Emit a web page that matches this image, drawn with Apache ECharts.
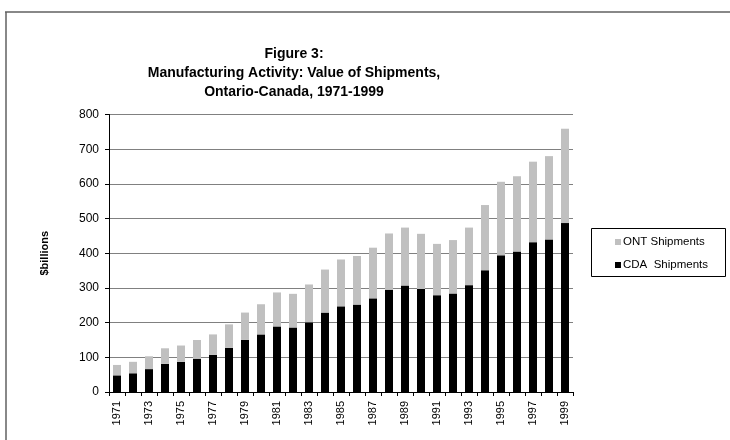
<!DOCTYPE html>
<html><head><meta charset="utf-8">
<script src="https://cdn.jsdelivr.net/npm/echarts@6/dist/echarts.min.js"></script>
<style>html,body{margin:0;padding:0;background:#fff}#c{width:730px;height:440px}</style>
</head><body><div id="c"></div>
<script>
var years = ['1971','1972','1973','1974','1975','1976','1977','1978','1979','1980','1981','1982','1983','1984','1985','1986','1987','1988','1989','1990','1991','1992','1993','1994','1995','1996','1997','1998','1999'];
var cdaShipments = [48,54,66,81,87,96,107,127,150,166,189,186,201,229,247,252,270,295,307,297,279,284,308,351,394,405,432,440,487];
var ontShipments = [30,33,37,45,47,54,59,68,79,87,98,97,109,124,135,140,146,162,167,159,148,154,166,188,212,217,232,240,272];
var yTicks = [0,100,200,300,400,500,600,700,800];

var FONT = 'Liberation Sans, Arial, sans-serif';
var chart = echarts.init(document.getElementById('c'), null, {renderer:'canvas'});
chart.setOption({
  animation: false,
  backgroundColor: '#fff',
  textStyle: {fontFamily: FONT, color: '#000'},
  title: {
    text: 'Figure 3:\nManufacturing Activity: Value of Shipments,\nOntario-Canada, 1971-1999',
    left: 289, top: 40, textAlign: 'center',
    textStyle: {fontFamily: FONT, fontSize: 14, fontWeight: 'bold', lineHeight: 19, color: '#000'}
  },
  graphic: [
    {type:'line', shape:{x1:5,y1:12,x2:730,y2:12}, style:{stroke:'#606060', lineWidth:1.5}},
    {type:'line', shape:{x1:6,y1:12,x2:6,y2:440}, style:{stroke:'#606060', lineWidth:1.5}},
    {type:'rect', shape:{x:591.5,y:228.5,width:134,height:48}, style:{fill:'#fff', stroke:'#000', lineWidth:1}, z:0}
  ],
  legend: {
    data: ['ONT Shipments','CDA  Shipments'],
    orient: 'vertical', left: 610, top: 231,
    itemWidth: 6, itemHeight: 6, itemGap: 11,
    icon: 'rect',
    textStyle: {fontFamily: FONT, fontSize: 11.5, color:'#000', padding:[0,0,0,-3]},
    z: 5
  },
  grid: {left: 109, right: 157, top: 114.5, bottom: 48},
  xAxis: {
    type: 'category', data: years,
    axisLine: {lineStyle: {color: '#000', width: 1}},
    axisTick: {show: true, interval: 0, length: 4, lineStyle:{color:'#000'}},
    axisLabel: {interval: 1, rotate: 90, fontSize: 11, color: '#000', fontFamily: FONT, margin: 9}
  },
  yAxis: {
    type: 'value', min: 0, max: 800, interval: 100,
    name: '$billions', nameLocation: 'middle', nameGap: 59, nameRotate: 90,
    nameTextStyle: {fontFamily: FONT, fontSize: 11, fontWeight: 'bold', color: '#000'},
    axisLine: {show: true, lineStyle: {color: '#000', width: 1}},
    axisTick: {show: true, length: 4, lineStyle:{color:'#000'}},
    axisLabel: {fontSize: 12, color: '#000', fontFamily: FONT, margin: 10,
      formatter: function(v){ return yTicks.indexOf(v) >= 0 ? String(v) : ''; }},
    splitLine: {show: true, lineStyle: {color: '#808080', width: 1}}
  },
  series: [
    {name: 'CDA  Shipments', type: 'bar', stack: 'a', data: cdaShipments,
     barCategoryGap: '50%', itemStyle: {color: '#000'}},
    {name: 'ONT Shipments', type: 'bar', stack: 'a', data: ontShipments,
     barCategoryGap: '50%', itemStyle: {color: '#c0c0c0'}}
  ]
});
</script></body></html>
